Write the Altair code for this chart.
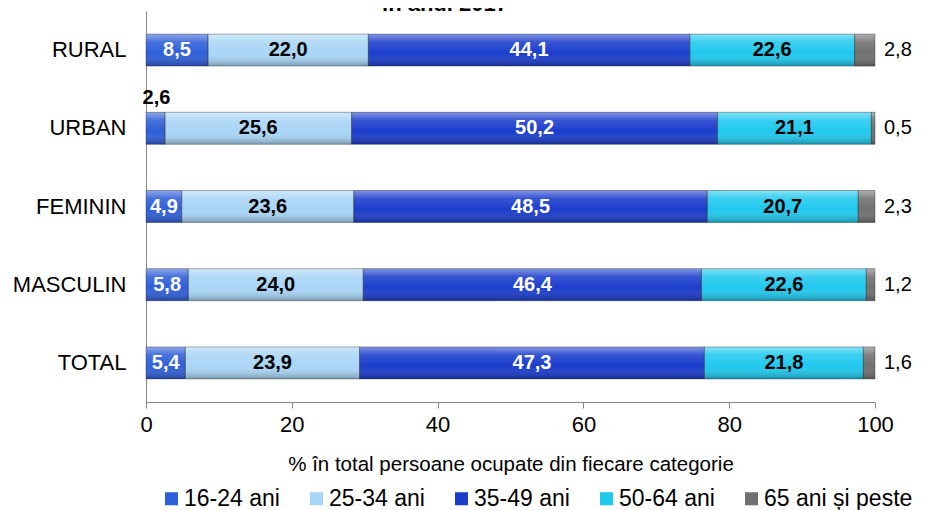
import altair as alt
import pandas as pd

title_text = ["în anul 2017"]
categories = ["RURAL", "URBAN", "FEMININ", "MASCULIN", "TOTAL"]
groups = ["16-24 ani", "25-34 ani", "35-49 ani", "50-64 ani", "65 ani și peste"]
v_16_24 = [8.5, 2.6, 4.9, 5.8, 5.4]
v_25_34 = [22.0, 25.6, 23.6, 24.0, 23.9]
v_35_49 = [44.1, 50.2, 48.5, 46.4, 47.3]
v_50_64 = [22.6, 21.1, 20.7, 22.6, 21.8]
v_65 = [2.8, 0.5, 2.3, 1.2, 1.6]
colors = ["#2f5fd8", "#a9d5f6", "#1b3dcc", "#20c9ee", "#707070"]
x_ticks = [0, 20, 40, 60, 80, 100]
x_title = "% în total persoane ocupate din fiecare categorie"

series = [v_16_24, v_25_34, v_35_49, v_50_64, v_65]
rows = []
for gi, (g, vals) in enumerate(zip(groups, series)):
    for cat, v in zip(categories, vals):
        rows.append({"cat": cat, "grp": g, "gi": gi, "val": v,
                     "lab": f"{v:.1f}".replace(".", ",")})
df = pd.DataFrame(rows)

FONT = "Liberation Sans"

base = alt.Chart(df).transform_stack(
    stack="val", groupby=["cat"], as_=["x0", "x1"], sort=[alt.SortField("gi")]
).transform_calculate(mid="(datum.x0 + datum.x1) / 2")

y_enc = alt.Y("cat:N", sort=categories, title=None,
              axis=alt.Axis(ticks=False, labelFontSize=22, labelFont=FONT,
                            labelColor="#000", labelPadding=20,
                            domainColor="#868686", domainWidth=1))
x_scale = alt.Scale(domain=[0, 100], nice=False)

bars = base.mark_bar(size=32).encode(
    y=y_enc,
    x=alt.X("x0:Q", scale=x_scale, title=x_title,
            axis=alt.Axis(values=x_ticks, grid=False, tickSize=6,
                          tickColor="#868686", domainColor="#868686",
                          labelFontSize=22, labelFont=FONT, labelColor="#000",
                          labelFlush=False, labelPadding=6,
                          titleFontSize=20.5, titleFont=FONT,
                          titleFontWeight="normal", titleColor="#000",
                          titlePadding=19)),
    x2="x1:Q",
    color=alt.Color("grp:N", scale=alt.Scale(domain=groups, range=colors),
                    legend=alt.Legend(title=None, orient="none", direction="horizontal",
                                      legendX=14, legendY=476, columns=5,
                                      symbolType="square", symbolSize=170,
                                      symbolStrokeWidth=0, labelFontSize=23,
                                      labelFont=FONT, labelColor="#000",
                                      labelOffset=1, columnPadding=25, padding=0)),
)

shade = base.mark_bar(
    size=32,
    fill=alt.Gradient(gradient="linear", x1=0, y1=0, x2=0, y2=1,
                      stops=[alt.GradientStop(color="rgba(255,255,255,0.45)", offset=0),
                             alt.GradientStop(color="rgba(255,255,255,0.12)", offset=0.25),
                             alt.GradientStop(color="rgba(255,255,255,0)", offset=0.6),
                             alt.GradientStop(color="rgba(0,0,0,0.28)", offset=1)]),
    stroke="#222", strokeWidth=0.6, strokeOpacity=0.6,
).encode(y=alt.Y("cat:N", sort=categories), x=alt.X("x0:Q", scale=x_scale), x2="x1:Q")

txt_white = base.transform_filter(
    "(datum.gi == 0 && datum.val >= 3) || datum.gi == 2"
).mark_text(fontSize=20, fontWeight="bold", font=FONT, color="white").encode(
    y=alt.Y("cat:N", sort=categories), x=alt.X("mid:Q", scale=x_scale), text="lab:N")

txt_black = base.transform_filter(
    "datum.gi == 1 || datum.gi == 3"
).mark_text(fontSize=20, fontWeight="bold", font=FONT, color="black").encode(
    y=alt.Y("cat:N", sort=categories), x=alt.X("mid:Q", scale=x_scale), text="lab:N")

txt_above = base.transform_filter(
    "datum.gi == 0 && datum.val < 3"
).mark_text(fontSize=20, fontWeight="bold", font=FONT, color="black", dy=-30, dx=1).encode(
    y=alt.Y("cat:N", sort=categories), x=alt.X("mid:Q", scale=x_scale), text="lab:N")

txt_out = base.transform_filter("datum.gi == 4").mark_text(
    fontSize=20, font=FONT, color="black", align="left", dx=9
).encode(y=alt.Y("cat:N", sort=categories), x=alt.X("x1:Q", scale=x_scale), text="lab:N")

title = alt.Chart(pd.DataFrame({"t": title_text})).mark_text(
    fontSize=22, fontWeight="bold", font=FONT, color="black", baseline="alphabetic"
).encode(x=alt.value(299), y=alt.value(0), text="t:N")

chart = alt.layer(bars, shade, txt_white, txt_black, txt_above, txt_out, title).properties(
    width=729, height=391,
    autosize=alt.AutoSizeParams(type="none"),
    padding={"left": 138, "top": 3, "right": 46, "bottom": 108},
).configure_view(stroke=None).configure_axisY(domain=True)

chart.save("out.html", embed_options={"renderer": "svg", "actions": False})
